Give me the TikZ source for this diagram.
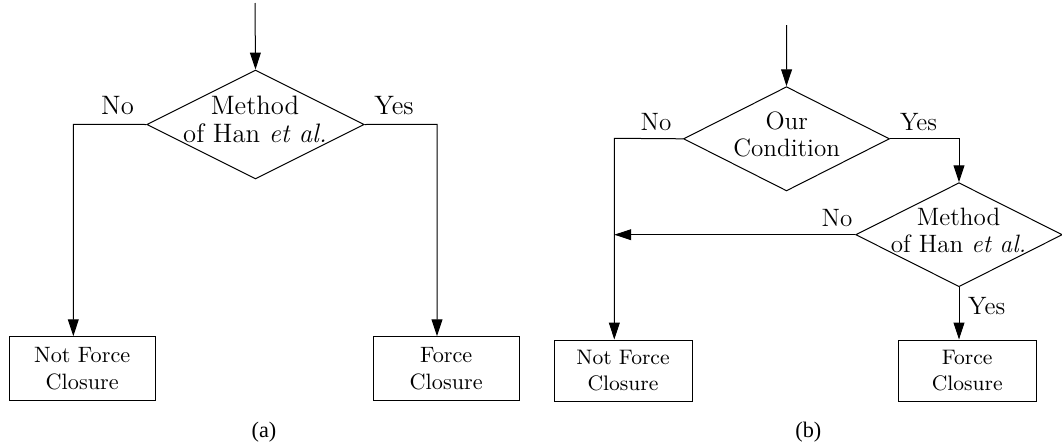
\documentclass[tikz,border=0pt]{standalone}
\usepackage{fontspec}
\newfontfamily\capfont{Liberation Serif}
\usetikzlibrary{shapes.geometric,arrows.meta}
\begin{document}
\begin{tikzpicture}[x=0.45pt,y=-0.45pt,
  line width=0.45pt,
  arr/.style={-{Triangle[length=7.6pt,width=4.9pt]}},
  dia/.style={diamond,draw,inner sep=0pt},
  boxnode/.style={rectangle,draw,inner sep=0pt,align=center},
  txta/.style={align=center,inner sep=0pt,font=\fontsize{12}{12.5}\selectfont},
  txtb/.style={align=center,inner sep=0pt,font=\fontsize{11.3}{11.8}\selectfont},
  lbla/.style={anchor=base,inner sep=0pt,font=\fontsize{12}{14}\selectfont},
  lblb/.style={anchor=base,inner sep=0pt,font=\fontsize{11.3}{13.5}\selectfont},
  boxa/.style={boxnode,minimum width=65.6pt,minimum height=28.9pt,font=\fontsize{10}{12}\selectfont},
  boxb/.style={boxnode,minimum width=62.1pt,minimum height=27.45pt,font=\fontsize{9.45}{12}\selectfont},
  capt/.style={anchor=base,inner sep=0pt,font=\capfont\fontsize{10}{12}\selectfont},
]
\useasboundingbox (0,0) rectangle (1062,446);

% ---------- panel (a)
\node[dia,minimum width=97.9pt,minimum height=49.05pt] (da) at (255.5,124.5) {};
\node[txta] (tda) at (255,119.5) {Method\\of Han \textit{et al.}};
\node[boxa] (nfa) at (82.2,368.8) {Not Force\\Closure};
\node[boxa] (fa) at (446.2,368.8) {Force\\Closure};
\coordinate (ina) at (255,3);
\coordinate (la) at (73.3,124.3);
\coordinate (ra) at (437,124.3);
\draw[arr] (ina) -- (da.north);
\draw[arr] (da.west) -- (la) -- (la |- nfa.north);
\draw[arr] (da.east) -- (ra) -- (ra |- fa.north);
\node[lbla] (noa) at (117.5,114.3) {No};
\node[lbla] (yesa) at (394,114.3) {Yes};
\node[capt] (capa) at (264,437.5) {(a)};

% ---------- panel (b)
\node[dia,minimum width=92.7pt,minimum height=46.9pt] (cb) at (786.5,138.8) {};
\node[txtb] (tcb) at (786.7,134.5) {Our\\Condition};
\node[dia,minimum width=93pt,minimum height=46.8pt] (db) at (959,234.7) {};
\node[txtb] (tdb) at (958.5,230.5) {Method\\of Han \textit{et al.}};
\node[boxb] (nfb) at (623,370.5) {Not Force\\Closure};
\node[boxb] (fb) at (967.2,370.5) {Force\\Closure};
\coordinate (inb) at (786.7,25);
\coordinate (lb) at (614.3,138.3);
\draw[arr] (inb) -- (cb.north);
\draw[arr] (cb.west) -- (lb) -- (lb |- nfb.north);
\draw[arr] (cb.east) -| (db.north);
\draw[arr] (db.west) -- (lb |- db.west);
\draw[arr] (db.south) -- (db.south |- fb.north);
\node[lblb] (nob1) at (656,130) {No};
\node[lblb] (yesb1) at (918.5,130) {Yes};
\node[lblb] (nob2) at (837,226) {No};
\node[lblb] (yesb2) at (986.7,314) {Yes};
\node[capt] (capb) at (808.3,437.5) {(b)};
\end{tikzpicture}
\end{document}
